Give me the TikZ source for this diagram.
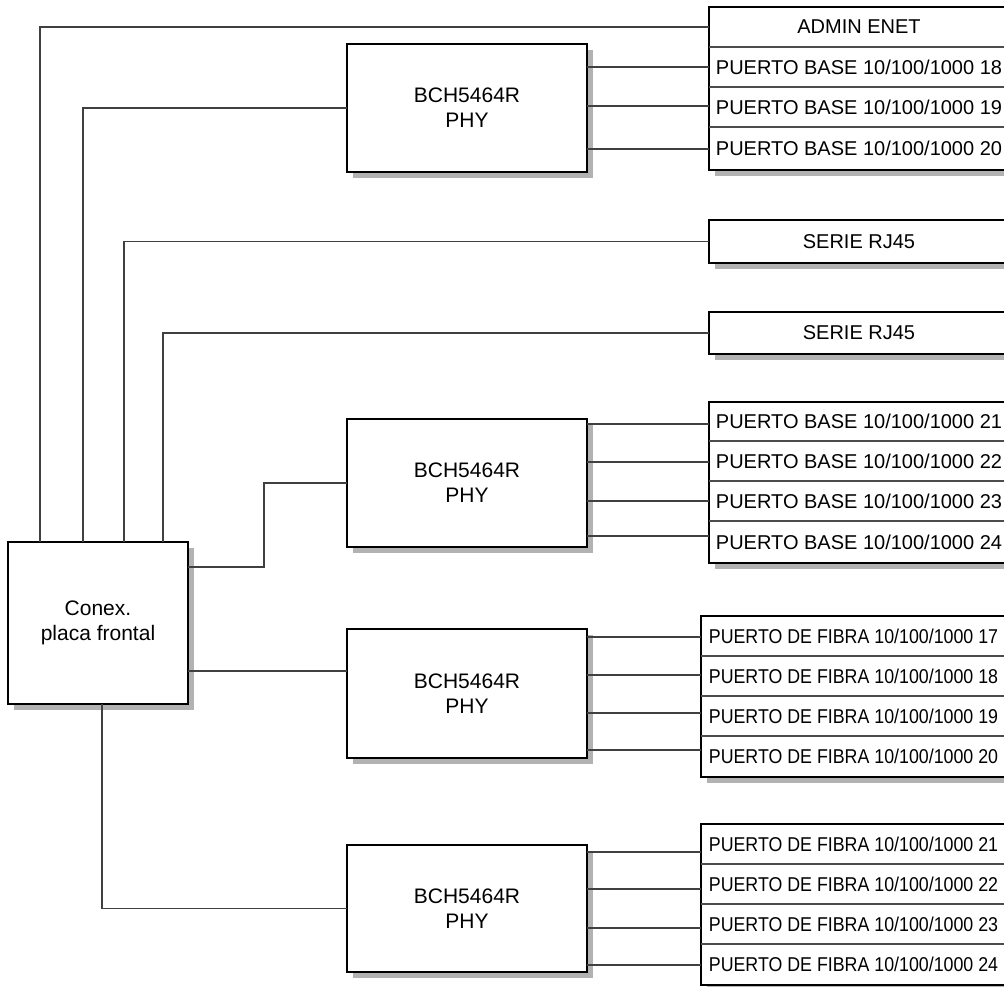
\documentclass[tikz,border=0pt]{standalone}
\usepackage{fontspec}
\setmainfont{Liberation Sans}
\usepackage{graphicx}
\usetikzlibrary{shadows}
\tikzset{
  shad/.style={drop shadow={shadow xshift=6pt, shadow yshift=-6pt, fill=black!30, opacity=1}},
  blk/.style={draw=black, line width=1.6pt, fill=white, anchor=north west, inner sep=0pt, outer sep=0pt,
    align=center, font=\fontsize{21}{25}\selectfont, shad},
  stackbox/.style={draw=black, line width=1.6pt, fill=white, anchor=north west, inner sep=0pt, outer sep=0pt, shad},
  row/.style={anchor=north west, inner sep=0pt, outer sep=0pt, minimum width=300pt, font=\fontsize{20}{24}\selectfont},
  frow/.style={anchor=north west, inner sep=0pt, outer sep=0pt, minimum width=305pt, font=\fontsize{20}{24}\selectfont},
  conn/.style={draw=black!75, line width=1.2pt},
  divider/.style={draw=black!70, line width=1.2pt},
}
\newcommand{\fib}[1]{\scalebox{0.89}[1]{PUERTO DE FIBRA 10/100/1000 #1}}
\begin{document}
\begin{tikzpicture}[x=1pt, y=-1pt]
\useasboundingbox (0,0) rectangle (1004,987);
\clip (0,0) rectangle (1004,987);

% main blocks
\node[blk, minimum width=180pt, minimum height=162pt] (conex) at (8,542) {Conex.\\placa frontal};
\node[blk, minimum width=240pt, minimum height=128pt] (phy1) at (347,44) {BCH5464R\\PHY};
\node[blk, minimum width=240pt, minimum height=128pt] (phy2) at (347,419) {BCH5464R\\PHY};
\node[blk, minimum width=240pt, minimum height=129pt] (phy3) at (347,629) {BCH5464R\\PHY};
\node[blk, minimum width=240pt, minimum height=127pt] (phy4) at (347,845) {BCH5464R\\PHY};

% top stack
\node[stackbox, minimum width=300pt, minimum height=163pt] (s1) at (709,7) {};
\node[row, minimum height=40pt] (admin) at (709,7) {ADMIN ENET};
\node[row, minimum height=40pt] (b18) at (709,47) {PUERTO BASE 10/100/1000 18};
\node[row, minimum height=40pt] (b19) at (709,87) {PUERTO BASE 10/100/1000 19};
\node[row, minimum height=43pt] (b20) at (709,127) {PUERTO BASE 10/100/1000 20};
\foreach \r in {admin,b18,b19}{\draw[divider] (\r.south west) -- (\r.south east);}

% serial ports
\node[stackbox, minimum width=300pt, minimum height=43pt, font=\fontsize{20}{24}\selectfont] (ser1) at (709,220) {SERIE RJ45};
\node[stackbox, minimum width=300pt, minimum height=42pt, font=\fontsize{20}{24}\selectfont] (ser2) at (709,312) {SERIE RJ45};

% base stack 21-24
\node[stackbox, minimum width=300pt, minimum height=161pt] (s2) at (709,402) {};
\node[row, minimum height=39pt] (b21) at (709,402) {PUERTO BASE 10/100/1000 21};
\node[row, minimum height=40pt] (b22) at (709,441) {PUERTO BASE 10/100/1000 22};
\node[row, minimum height=40pt] (b23) at (709,481) {PUERTO BASE 10/100/1000 23};
\node[row, minimum height=42pt] (b24) at (709,521) {PUERTO BASE 10/100/1000 24};
\foreach \r in {b21,b22,b23}{\draw[divider] (\r.south west) -- (\r.south east);}

% fibre stack 17-20
\node[stackbox, minimum width=305pt, minimum height=161pt] (s3) at (701,616) {};
\node[frow, minimum height=40pt] (f17) at (701,616) {\fib{17}};
\node[frow, minimum height=40pt] (f18) at (701,656) {\fib{18}};
\node[frow, minimum height=40pt] (f19) at (701,696) {\fib{19}};
\node[frow, minimum height=41pt] (f20) at (701,736) {\fib{20}};
\foreach \r in {f17,f18,f19}{\draw[divider] (\r.south west) -- (\r.south east);}

% fibre stack 21-24
\node[stackbox, minimum width=305pt, minimum height=161pt] (s4) at (701,824) {};
\node[frow, minimum height=40pt] (f21) at (701,824) {\fib{21}};
\node[frow, minimum height=40pt] (f22) at (701,864) {\fib{22}};
\node[frow, minimum height=40pt] (f23) at (701,904) {\fib{23}};
\node[frow, minimum height=41pt] (f24) at (701,944) {\fib{24}};
\foreach \r in {f21,f22,f23}{\draw[divider] (\r.south west) -- (\r.south east);}

% connectors from the front-panel connector
\coordinate (t1) at ([xshift=32pt]conex.north west);
\coordinate (t2) at ([xshift=75pt]conex.north west);
\coordinate (t3) at ([xshift=116pt]conex.north west);
\coordinate (t4) at ([xshift=155pt]conex.north west);
\draw[conn] (t1) |- (admin.west);
\draw[conn] (t2) |- (phy1.west);
\draw[conn] (t3) |- (ser1.west);
\draw[conn] (t4) |- (ser2.west);
\coordinate (r1) at ([yshift=-25pt]conex.north east);
\coordinate (r2) at ([yshift=-129pt]conex.north east);
\coordinate (bt) at ([xshift=94pt]conex.south west);
\draw[conn] (r1) -- ++(76pt,0pt) |- (phy2.west);
\draw[conn] (r2) -- (r2 -| phy3.west);
\draw[conn] (bt) |- (phy4.west);

% PHY outputs
\foreach \d/\r in {23/b18, 62/b19, 105/b20}{
  \draw[conn] ([yshift=-\d pt]phy1.north east) coordinate (tmp) -- (tmp -| \r.west);}
\foreach \d/\r in {5/b21, 43/b22, 82/b23, 117/b24}{
  \draw[conn] ([yshift=-\d pt]phy2.north east) coordinate (tmp) -- (tmp -| \r.west);}
\foreach \d/\r in {8/f17, 46/f18, 84/f19, 121/f20}{
  \draw[conn] ([yshift=-\d pt]phy3.north east) coordinate (tmp) -- (tmp -| \r.west);}
\foreach \d/\r in {7/f21, 44/f22, 83/f23, 120/f24}{
  \draw[conn] ([yshift=-\d pt]phy4.north east) coordinate (tmp) -- (tmp -| \r.west);}
\end{tikzpicture}
\end{document}
